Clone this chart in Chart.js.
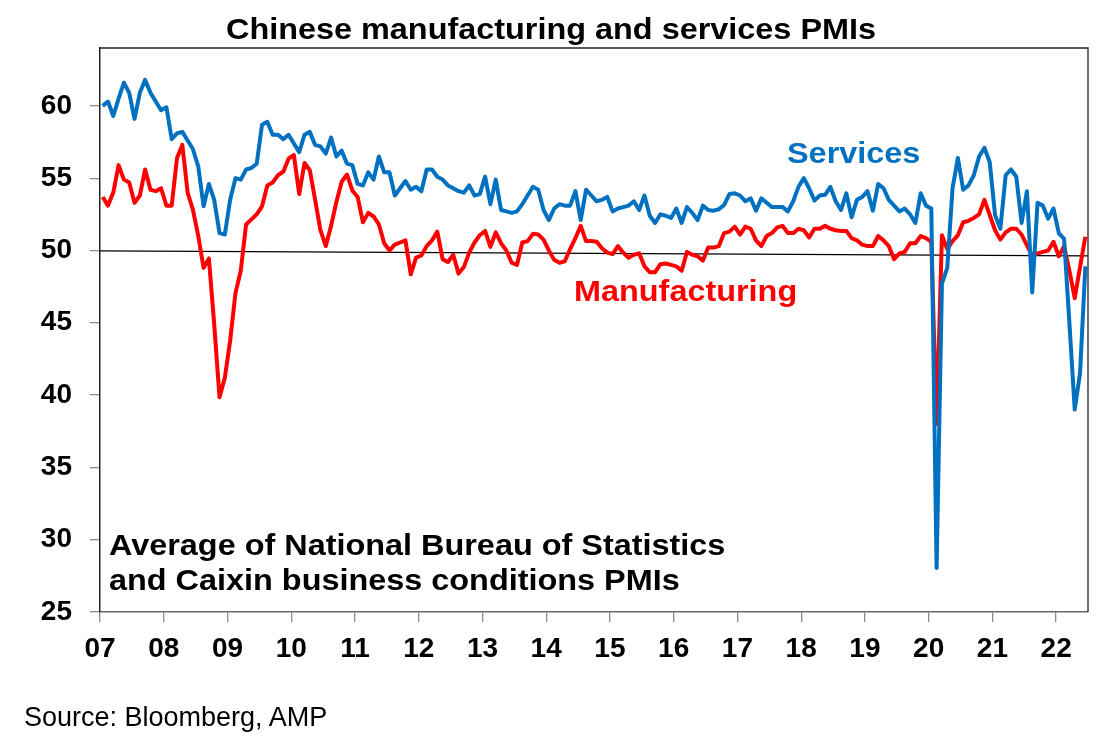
<!DOCTYPE html>
<html>
<head>
<meta charset="utf-8">
<script src="https://cdn.jsdelivr.net/npm/chart.js@4.4.1/dist/chart.umd.min.js"></script>
<style>
  html, body { margin: 0; padding: 0; background: #fff; }
  #wrap { position: relative; width: 1117px; height: 747px; overflow: hidden; }
  #chart { position: absolute; left: 0; top: 0; }
  .txt { position: absolute; white-space: nowrap; font-family: "Liberation Sans", Arial, sans-serif; line-height: 1; }
  .b { font-weight: bold; font-size: 30px; transform: scaleX(1.08); transform-origin: 0 0; }
</style>
</head>
<body>
<div id="wrap">
  <canvas id="chart" width="1117" height="747"></canvas>
  <div class="txt b" style="left:226px; top:14px; color:#000;">Chinese manufacturing and services PMIs</div>
  <div class="txt b" style="left:787px; top:138px; color:#0070C0;">Services</div>
  <div class="txt b" style="left:574px; top:276px; color:#FF0000;">Manufacturing</div>
  <div class="txt b" style="left:109px; top:530px; color:#000;">Average of National Bureau of Statistics</div>
  <div class="txt b" style="left:109px; top:565px; color:#000;">and Caixin business conditions PMIs</div>
  <div class="txt" style="left:24px; top:704px; font-size:27px; color:#000;">Source: Bloomberg, AMP</div>
</div>
<script>
// monthly, Jan 2007 .. Jun 2022 (one row per year)
const manufacturing = [
  53.7, 53.1, 54.0, 55.9, 54.9, 54.7, 53.3, 53.8, 55.6, 54.2, 54.1, 54.3,
  53.1, 53.1, 56.4, 57.3, 54.0, 52.8, 51.0, 48.8, 49.45, 44.9, 39.85, 41.2,
  43.75, 47.05, 48.6, 51.8, 52.15, 52.5, 53.05, 54.5, 54.7, 55.2, 55.45, 56.35,
  56.6, 53.9, 56.05, 55.55, 53.5, 51.4, 50.3, 51.7, 53.35, 54.75, 55.25, 54.15,
  53.7, 51.95, 52.6, 52.35, 51.8, 50.5, 50.0, 50.4, 50.55, 50.7, 48.35, 49.5,
  49.65, 50.3, 50.7, 51.3, 49.4, 49.2, 49.7, 48.4, 48.85, 49.85, 50.55, 51.05,
  51.35, 50.25, 51.25, 50.5, 50.0, 49.15, 49.0, 50.55, 50.65, 51.15, 51.1, 50.75,
  50.0, 49.35, 49.15, 49.25, 50.1, 50.85, 51.7, 50.65, 50.65, 50.6, 50.15, 49.85,
  49.75, 50.3, 49.85, 49.5, 49.7, 49.8, 48.9, 48.5, 48.5, 49.05, 49.1, 49.0,
  48.9, 48.6, 49.9, 49.7, 49.6, 49.3, 50.2, 50.2, 50.3, 51.2, 51.3, 51.65,
  51.1, 51.65, 51.5, 50.7, 50.3, 51.0, 51.2, 51.6, 51.7, 51.2, 51.2, 51.5,
  51.4, 50.9, 51.5, 51.5, 51.7, 51.5, 51.4, 51.35, 51.35, 50.85, 50.7, 50.4,
  50.3, 50.3, 51.0, 50.7, 50.3, 49.4, 49.8, 49.9, 50.5, 50.5, 51.0, 50.85,
  50.6, 38.0, 51.05, 50.1, 50.65, 51.05, 51.95, 52.05, 52.25, 52.5, 53.5, 52.45,
  51.4, 50.75, 51.25, 51.5, 51.5, 51.1, 50.35, 49.65, 49.8, 49.9, 50.0, 50.6,
  49.6, 50.3, 48.6, 46.7, 48.85, 50.95
]

const services = [
  60.0, 60.3, 59.3, 60.5, 61.6, 60.9, 59.1, 60.9, 61.8, 60.9, 60.3, 59.7,
  59.9, 57.7, 58.1, 58.2, 57.6, 57.0, 55.8, 53.05, 54.6, 53.5, 51.2, 51.1,
  53.5, 55.0, 54.9, 55.6, 55.7, 56.0, 58.7, 58.9, 58.0, 58.0, 57.7, 58.0,
  57.4, 56.8, 58.0, 58.2, 57.3, 57.2, 56.7, 57.8, 56.5, 56.9, 56.0, 55.9,
  54.6, 54.5, 55.4, 54.9, 56.5, 55.4, 55.4, 53.8, 54.3, 54.8, 54.2, 54.4,
  54.1, 55.6, 55.6, 55.1, 54.9, 54.5, 54.3, 54.1, 54.0, 54.5, 53.8, 53.9,
  55.1, 53.2, 54.9, 52.8, 52.7, 52.6, 52.7, 53.2, 53.8, 54.4, 54.2, 52.8,
  52.1, 52.9, 53.2, 53.1, 53.1, 54.1, 52.1, 54.2, 53.8, 53.4, 53.5, 53.7,
  52.7, 52.9, 53.0, 53.1, 53.4, 52.8, 53.8, 52.4, 51.9, 52.5, 52.4, 52.25,
  52.9, 51.9, 53.0, 52.6, 52.1, 53.1, 52.8, 52.75, 52.85, 53.15, 53.9, 53.95,
  53.8, 53.4, 53.6, 52.75, 53.6, 53.3, 53.0, 53.0, 53.0, 52.7, 53.4, 54.4,
  55.0, 54.3, 53.45, 53.8, 53.85, 54.4, 53.4, 52.8, 53.95, 52.3, 53.5, 53.7,
  54.1, 52.75, 54.6, 54.3, 53.5, 53.1, 52.7, 52.9, 52.5, 51.9, 53.95, 53.1,
  52.9, 28.05, 47.7, 48.8, 54.3, 56.4, 54.2, 54.5, 55.2, 56.5, 57.1, 56.1,
  52.45, 51.5, 55.2, 55.6, 55.1, 51.9, 54.1, 47.1, 53.3, 53.1, 52.2, 52.9,
  51.2, 50.8, 45.0, 39.0, 41.5, 48.9
]

// year tick labels, one per 12 months from Jan 2007
const yearLabels = ['07','08','09','10','11','12','13','14','15','16','17','18','19','20','21','22']
const yTicks = [25, 30, 35, 40, 45, 50, 55, 60]

// the thin 50 line as drawn in the original (slightly tilted)
const refLineX = [0, 186]
const refLineY = [49.97, 49.62]

const fontFamily = '"Liberation Sans", Arial, sans-serif'

// each month sits in the middle of its slot
const toPoints = arr => arr.map((v, i) => ({ x: i + 0.5, y: v }))

const frame = {
  id: 'frame',
  afterDraw(chart) {
    const { ctx, chartArea } = chart
    ctx.save()
    ctx.strokeStyle = '#222'
    ctx.lineWidth = 1.3
    ctx.beginPath()
    ctx.moveTo(chartArea.left, chartArea.top)
    ctx.lineTo(chartArea.right, chartArea.top)
    ctx.lineTo(chartArea.right, chartArea.bottom)
    ctx.stroke()
    ctx.restore()
  }
}

new Chart(document.getElementById('chart').getContext('2d'), {
  type: 'line',
  data: {
    datasets: [
      {
        label: 'Services',
        data: toPoints(services),
        borderColor: '#0070C0',
        borderWidth: 4,
        pointRadius: 0,
        borderJoinStyle: 'round',
        order: 0
      },
      {
        label: 'Manufacturing',
        data: toPoints(manufacturing),
        borderColor: '#FF0000',
        borderWidth: 4,
        pointRadius: 0,
        borderJoinStyle: 'round',
        order: 1
      },
      {
        label: '50',
        data: refLineX.map((x, i) => ({ x: x, y: refLineY[i] })),
        borderColor: '#000',
        borderWidth: 1.2,
        pointRadius: 0,
        order: 2
      }
    ]
  },
  options: {
    responsive: false,
    animation: false,
    layout: { padding: { left: 0, top: 48, right: 29, bottom: 0 } },
    plugins: {
      legend: { display: false },
      tooltip: { enabled: false }
    },
    scales: {
      x: {
        type: 'linear',
        min: 0,
        max: 186,
        afterBuildTicks: s => { s.ticks = yearLabels.map((_, i) => ({ value: i * 12 })) },
        afterFit: s => { s.height = 135 },
        ticks: {
          callback: (v) => yearLabels[Math.round(v / 12)],
          color: '#000',
          font: { family: fontFamily, size: 28, weight: 'bold' },
          padding: 10,
          maxRotation: 0,
          autoSkip: false
        },
        grid: { drawOnChartArea: false, tickLength: 10, color: '#8c8c8c', lineWidth: 1.3 },
        border: { display: true, color: '#666', width: 1.5 }
      },
      y: {
        min: 25,
        max: 64,
        afterBuildTicks: s => { s.ticks = yTicks.map(v => ({ value: v })) },
        afterFit: s => { s.width = 100 },
        ticks: {
          color: '#000',
          font: { family: fontFamily, size: 28, weight: 'bold' },
          padding: 18
        },
        grid: { drawOnChartArea: false, tickLength: 10, color: '#8c8c8c', lineWidth: 1.3 },
        border: { display: true, color: '#222', width: 1.5 }
      }
    }
  },
  plugins: [frame]
})
</script>
</body>
</html>
